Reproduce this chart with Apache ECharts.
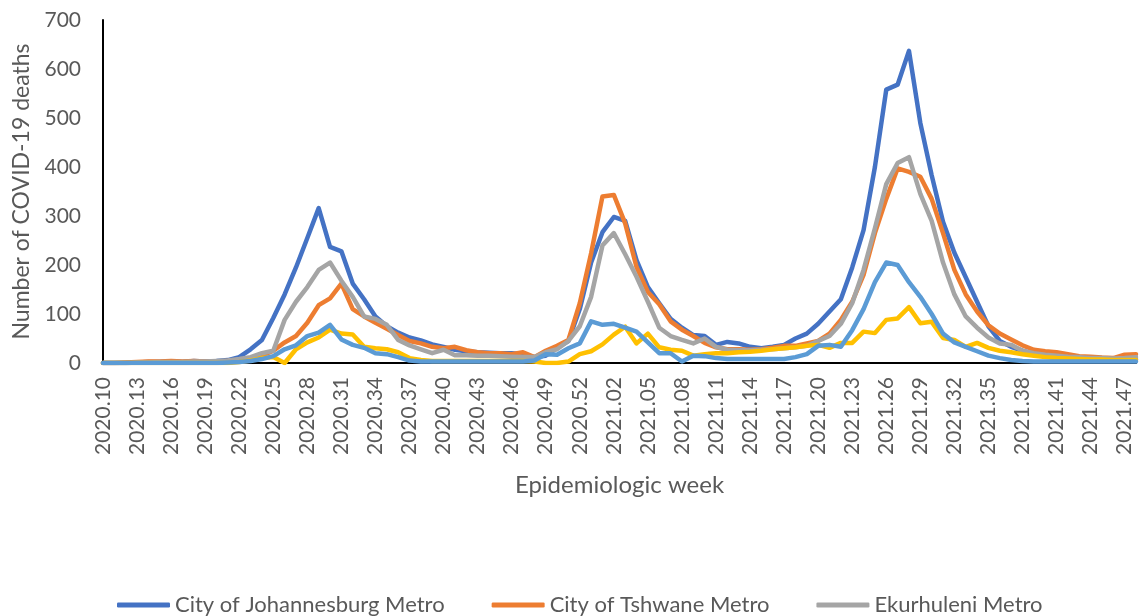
<!doctype html>
<html>
<head>
<meta charset="utf-8">
<style>
  html, body { margin: 0; padding: 0; background: #fff; }
  #chart-panel { width: 1141px; height: 616px; }
</style>
<script src="https://cdn.jsdelivr.net/npm/echarts@6/dist/echarts.min.js"></script>
</head>
<body>
<div id="chart-panel"></div>
<script type="text/javascript">
// epidemiologic weeks 2020.10 .. 2021.48
var weeks = [
  '2020.10','2020.11','2020.12','2020.13','2020.14','2020.15','2020.16','2020.17','2020.18','2020.19',
  '2020.20','2020.21','2020.22','2020.23','2020.24','2020.25','2020.26','2020.27','2020.28','2020.29',
  '2020.30','2020.31','2020.32','2020.33','2020.34','2020.35','2020.36','2020.37','2020.38','2020.39',
  '2020.40','2020.41','2020.42','2020.43','2020.44','2020.45','2020.46','2020.47','2020.48','2020.49',
  '2020.50','2020.51','2020.52','2020.53','2021.01','2021.02','2021.03','2021.04','2021.05','2021.06',
  '2021.07','2021.08','2021.09','2021.10','2021.11','2021.12','2021.13','2021.14','2021.15','2021.16',
  '2021.17','2021.18','2021.19','2021.20','2021.21','2021.22','2021.23','2021.24','2021.25','2021.26',
  '2021.27','2021.28','2021.29','2021.30','2021.31','2021.32','2021.33','2021.34','2021.35','2021.36',
  '2021.37','2021.38','2021.39','2021.40','2021.41','2021.42','2021.43','2021.44','2021.45','2021.46',
  '2021.47','2021.48'
];

var johannesburg = [
  0,0,0,1,2,2,3,2,4,3,4,6,
  12,28,47,92,140,195,255,316,237,228,162,130,
  95,75,62,52,46,38,33,27,24,22,21,20,
  20,18,12,15,31,45,110,205,267,298,290,210,
  155,122,90,72,57,55,37,43,40,33,30,33,
  37,50,60,80,105,130,195,271,400,558,568,637,
  490,383,288,225,175,125,75,45,33,25,18,14,
  10,8,6,5,5,5,6,8
];
var tshwane = [
  0,0,1,2,3,3,4,3,4,3,3,4,
  5,8,15,25,42,55,82,118,132,162,110,95,
  82,70,57,45,40,33,30,33,26,22,20,20,
  18,22,12,25,35,47,122,224,340,343,285,196,
  145,120,85,68,55,41,32,28,28,27,28,31,
  35,35,40,45,60,88,125,180,265,335,397,390,
  380,335,265,190,140,105,77,60,48,36,27,24,
  22,18,14,13,11,10,17,18
];
var ekurhuleni = [
  0,0,0,1,1,2,2,2,3,3,4,5,
  8,12,20,25,88,125,155,190,205,168,135,95,
  90,78,47,36,28,20,27,16,16,15,15,14,
  13,12,12,22,28,45,75,135,240,265,222,176,
  125,72,55,47,40,50,33,27,26,26,27,28,
  30,32,35,45,55,80,122,190,275,365,408,420,
  345,290,205,140,95,72,52,40,37,25,20,17,
  15,13,12,10,10,9,10,12
];
var sedibeng = [
  0,0,0,0,0,0,0,0,0,0,0,0,
  2,5,10,12,0,28,42,52,68,60,58,33,
  30,28,22,10,6,4,4,4,4,4,4,4,
  4,4,3,0,0,3,18,24,38,58,74,40,
  60,32,27,25,15,18,20,20,22,23,25,28,
  30,32,35,37,31,41,41,64,61,88,91,114,
  81,84,51,47,33,41,31,25,22,18,15,12,
  10,9,8,7,7,6,6,6
];
var westRand = [
  0,0,0,0,0,0,0,0,0,0,0,1,
  2,4,8,14,28,36,55,62,78,48,37,31,
  20,18,12,5,3,3,3,3,3,3,3,3,
  3,3,5,18,17,30,40,85,78,80,72,64,
  42,20,20,3,15,14,10,8,8,8,8,8,
  8,12,18,35,37,33,67,110,165,205,200,165,
  135,100,60,42,33,24,15,10,6,4,3,3,
  3,3,3,3,3,3,3,3
];

var seriesNames = ['City of Johannesburg Metro', 'City of Tshwane Metro', 'Ekurhuleni Metro',
                   'Sedibeng District Municipality', 'West Rand District Municipality'];
var seriesData = [johannesburg, tshwane, ekurhuleni, sedibeng, westRand];
var colors = ['#4472C4', '#ED7D31', '#A5A5A5', '#FFC000', '#5B9BD5'];

var textColor = '#595959';
var font = 'Lato';

var myChart = echarts.init(document.getElementById('chart-panel'));

var series = [];
for (var n = 0; n < seriesNames.length; n++) {
    series.push({
        name: seriesNames[n],
        type: 'line',
        data: seriesData[n],
        symbol: 'none',
        color: colors[n],
        lineStyle: { width: 4.5, color: colors[n], cap: 'round', join: 'round' },
        animation: false
    });
}

var option = {
    backgroundColor: '#fff',
    textStyle: { fontFamily: font },
    grid: { left: 103, right: 5, top: 20, bottom: 253, containLabel: false },
    legend: {
        data: seriesNames,
        left: 112,
        top: 589,
        width: 1000,
        itemWidth: 53,
        itemHeight: 5,
        itemGap: 47,
        icon: 'roundRect',
        textStyle: { color: textColor, fontSize: 22, fontFamily: font }
    },
    xAxis: {
        type: 'category',
        data: weeks,
        boundaryGap: false,
        name: 'Epidemiologic week',
        nameLocation: 'middle',
        nameGap: 110,
        nameTextStyle: { color: textColor, fontSize: 24, fontFamily: font },
        axisLine: { show: true, lineStyle: { color: '#000', width: 2 } },
        axisTick: { show: false },
        axisLabel: {
            interval: 2,
            rotate: 90,
            margin: 14,
            color: textColor,
            fontSize: 21,
            fontFamily: font
        },
        splitLine: { show: false }
    },
    yAxis: {
        type: 'value',
        min: 0,
        max: 700,
        interval: 100,
        name: 'Number of COVID-19 deaths',
        nameLocation: 'middle',
        nameGap: 70,
        nameTextStyle: { color: textColor, fontSize: 23, fontFamily: font },
        axisLine: { show: true, lineStyle: { color: '#000', width: 2 } },
        axisTick: { show: false },
        axisLabel: { color: textColor, fontSize: 21, margin: 22, fontFamily: font },
        splitLine: { show: false }
    },
    series: series
};

myChart.setOption(option);
</script>
</body>
</html>
